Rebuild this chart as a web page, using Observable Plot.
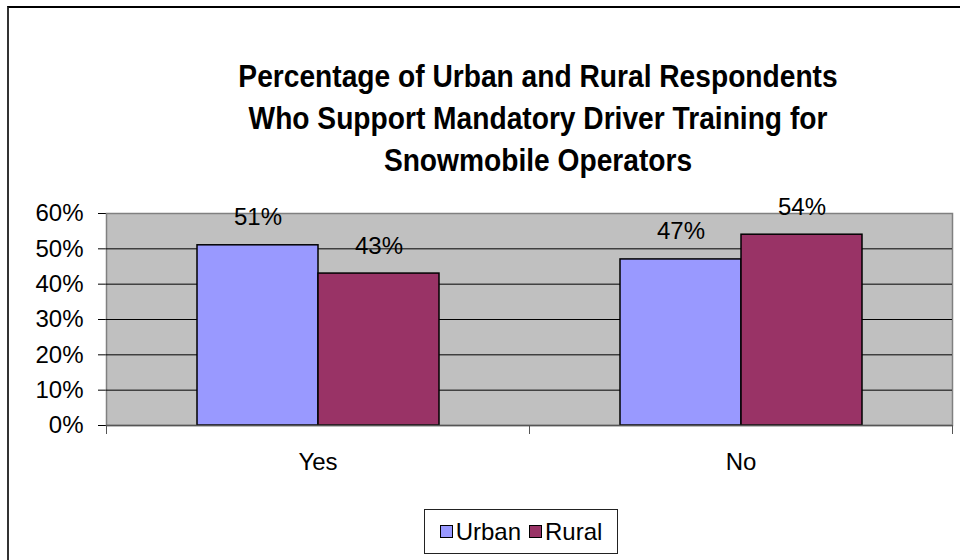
<!DOCTYPE html>
<html>
<head>
<meta charset="utf-8">
<script src="https://cdn.jsdelivr.net/npm/d3@7"></script>
<script src="https://cdn.jsdelivr.net/npm/@observablehq/plot@0.6"></script>
<style>
  html, body { margin: 0; padding: 0; background: #fff; }
  #wrap { position: relative; width: 960px; height: 560px; overflow: hidden; background: #fff;
          font-family: "Liberation Sans", Arial, sans-serif; }
  #border { position: absolute; left: 7px; top: 6px; width: 1000px; height: 600px;
            border-top: 2px solid #000; border-left: 2px solid #333; }
  #title { position: absolute; left: 88px; width: 900px; top: 55px; text-align: center;
           font-weight: bold; font-size: 32px; line-height: 42px; color: #000; }
  #title div { transform: scaleX(0.88); transform-origin: center; white-space: nowrap; }
  #chart { position: absolute; left: 0; top: 180px; }
  #legend { position: absolute; left: 424px; top: 509px; width: 194px; height: 45px; box-sizing: border-box;
            border: 1px solid #222; display: flex; align-items: center; justify-content: center;
            font-size: 24px; color: #000; gap: 8px; }
  .item { display: flex; align-items: center; gap: 3px; }
  .sw { width: 11px; height: 11px; border: 1.5px solid #000; display: inline-block; }
</style>
</head>
<body>
<div id="wrap">
  <div id="border"></div>
  <div id="title"></div>
  <div id="chart"></div>
  <div id="legend"></div>
</div>
<script>
const titleLines = [
  "Percentage of Urban and Rural Respondents",
  "Who Support Mandatory Driver Training for",
  "Snowmobile Operators"
];
const categories = ["Yes", "No"];
const series = ["Urban", "Rural"];
const urbanValues = [0.51, 0.47];
const ruralValues = [0.43, 0.54];
const seriesColors = ["#9999FF", "#993366"];
const yTicks = [0, 0.1, 0.2, 0.3, 0.4, 0.5, 0.6];
const gridTicks = [0.1, 0.2, 0.3, 0.4, 0.5];
const yMax = 0.6;

const data = categories.flatMap((c, i) => [
  {category: c, series: series[0], value: urbanValues[i]},
  {category: c, series: series[1], value: ruralValues[i]}
]);
const pct = d => Math.round(d * 100) + "%";

document.getElementById("title").innerHTML = titleLines.map(t => `<div>${t}</div>`).join("");

const chart = Plot.plot({
  width: 960,
  height: 310,
  marginLeft: 105,
  marginRight: 8,
  marginTop: 33,
  marginBottom: 65,
  style: {fontFamily: "'Liberation Sans', Arial, sans-serif", fontSize: "24px", background: "transparent", overflow: "visible", color: "#000"},
  fx: {domain: categories, padding: 0, label: null, axis: "bottom", tickSize: 0, tickPadding: 27},
  x: {domain: series, paddingInner: 0, paddingOuter: 0.7357, axis: null},
  y: {domain: [0, yMax], ticks: yTicks, tickFormat: pct, tickSize: 8, tickPadding: 15, label: null},
  color: {domain: series, range: seriesColors},
  marks: [
    Plot.frame({facet: "super", fill: "#C0C0C0", stroke: "#808080", strokeWidth: 1.5}),
    Plot.ruleY(gridTicks, {stroke: "#000", strokeWidth: 1}),
    Plot.barY(data, {fx: "category", x: "series", y: "value", fill: "series", stroke: "#000", strokeWidth: 1.5}),
    Plot.ruleY([0], {stroke: "#555", strokeWidth: 1.5}),
    Plot.frame({anchor: "right", stroke: "#555", insetTop: 212, insetBottom: -8}),
    Plot.frame({anchor: "left", stroke: "#555", insetTop: 212, insetBottom: -8}),
    Plot.text(data, {fx: "category", x: "series", y: "value", text: d => pct(d.value), lineAnchor: "bottom", dy: -20, fontSize: 24, fill: "#000"})
  ]
});
document.getElementById("chart").appendChild(chart);

document.getElementById("legend").innerHTML = series.map((s, i) =>
  `<span class="item"><span class="sw" style="background:${seriesColors[i]}"></span>${s}</span>`).join("");
</script>
</body>
</html>
